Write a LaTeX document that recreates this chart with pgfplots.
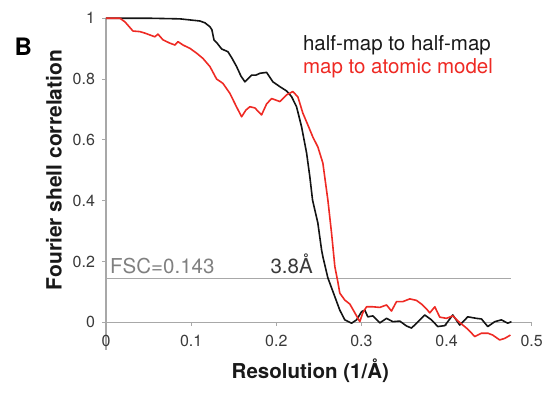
\documentclass[border=0pt]{standalone}
\usepackage{fontspec}
\setmainfont{TeX Gyre Heros}
\usepackage{pgfplots}
\pgfplotsset{compat=1.18}
\definecolor{fscred}{HTML}{EE2A24}
\definecolor{axgray}{HTML}{A8A8A8}
\definecolor{txtgray}{HTML}{3A3A3A}
\begin{document}
\begin{tikzpicture}
\begin{axis}[
  scale only axis, width=425.7pt, height=331.4pt,
  xmin=0, xmax=0.5, ymin=-0.09, ymax=1,
  axis x line*=middle, axis y line*=left,
  axis line style={axgray, line width=1.2pt, -},
  hide obscured x ticks=false, hide obscured y ticks=false,
  xtick={0,0.1,0.2,0.3,0.4,0.5}, ytick={0,0.2,0.4,0.6,0.8,1},
  minor tick num=0,
  tick align=outside, major tick length=3.5pt,
  tick style={axgray, line width=1pt},
  /pgf/number format/assume math mode=true,
  ticklabel style={font=\fontsize{16}{16}\selectfont, text=txtgray},
  xticklabel style={yshift=-6pt},
  yticklabel style={xshift=-4pt},
  clip=false,
  xlabel={Resolution (1/Å)},
  ylabel={Fourier shell correlation},
  xlabel style={at={(axis description cs:0.48,-0.0866)}, anchor=base, inner sep=0pt, font=\fontsize{20.5}{20.5}\selectfont\bfseries, text=black!90},
  ylabel style={at={(axis description cs:-0.104,0.542)}, anchor=base, rotate=0, inner sep=0pt, font=\fontsize{21}{21}\selectfont\bfseries, text=black!90},
]
\coordinate (O) at (axis cs:0,0);
\addplot[axgray, line width=1.2pt] coordinates {(0,0.143) (0.476,0.143)};
\addplot[black!92, line width=1.6pt, line join=round] coordinates {
(0,1.0) (0.0516,1.0) (0.0869,0.998) (0.1103,0.991) (0.1162,0.985) (0.1221,0.972)
(0.1244,0.962) (0.1268,0.929) (0.1303,0.919) (0.1358,0.899) (0.1432,0.890)
(0.1479,0.869) (0.1534,0.841) (0.1585,0.810) (0.1631,0.791) (0.1710,0.813)
(0.1761,0.813) (0.1808,0.819) (0.1886,0.822) (0.1960,0.791) (0.2042,0.775)
(0.2121,0.761) (0.2180,0.742) (0.2238,0.709) (0.2297,0.643) (0.2356,0.557)
(0.2394,0.479) (0.2426,0.402) (0.2488,0.327) (0.2532,0.238) (0.2547,0.216)
(0.2606,0.146) (0.2688,0.084) (0.2746,0.040) (0.2805,0.008) (0.2884,-0.003)
(0.2943,0.008) (0.3002,0.035) (0.3040,0.040) (0.3075,0.018) (0.3134,0.021)
(0.3216,-0.002) (0.3295,0.013) (0.3369,0.002) (0.3451,0.004) (0.3529,-0.012)
(0.3588,-0.019) (0.3647,-0.003) (0.3744,0.024) (0.3823,0.008) (0.3897,-0.014)
(0.3979,-0.011) (0.4073,0.024) (0.4155,-0.009) (0.4249,0.018) (0.4351,0.013)
(0.4410,0.011) (0.4484,-0.014) (0.4566,0.002) (0.4644,0.008) (0.4718,-0.003)
(0.4762,0.002)};
\addplot[fscred, line width=1.6pt, line join=round] coordinates {
(0,1.0) (0.0164,1.0) (0.0223,0.988) (0.0317,0.958) (0.0399,0.956) (0.0458,0.951)
(0.0516,0.945) (0.0575,0.939) (0.0610,0.948) (0.0669,0.929) (0.0751,0.918)
(0.0810,0.912) (0.0845,0.923) (0.0904,0.912) (0.0986,0.901) (0.1065,0.885)
(0.1138,0.868) (0.1221,0.841) (0.1299,0.800) (0.1373,0.786) (0.1455,0.753)
(0.1534,0.708) (0.1593,0.676) (0.1643,0.698) (0.1690,0.709) (0.1749,0.705)
(0.1827,0.682) (0.1886,0.718) (0.1945,0.736) (0.2042,0.726) (0.2121,0.748)
(0.2195,0.759) (0.2254,0.741) (0.2312,0.688) (0.2371,0.649) (0.2430,0.609)
(0.2488,0.577) (0.2547,0.524) (0.2606,0.402) (0.2649,0.294) (0.2688,0.183)
(0.2723,0.133) (0.2746,0.096) (0.2805,0.073) (0.2864,0.060) (0.2923,0.031)
(0.2981,0.002) (0.3016,0.031) (0.3060,0.051) (0.3134,0.051) (0.3216,0.049)
(0.3295,0.057) (0.3353,0.037) (0.3412,0.068) (0.3486,0.068) (0.3568,0.077)
(0.3647,0.072) (0.3705,0.060) (0.3764,0.044) (0.3803,0.031) (0.3862,0.051)
(0.3920,0.017) (0.3999,0.013) (0.4073,0.021) (0.4155,-0.001) (0.4234,-0.019)
(0.4272,-0.029) (0.4331,-0.047) (0.4410,-0.036) (0.4487,-0.036) (0.4542,-0.042)
(0.4624,-0.058) (0.4683,-0.053) (0.4750,-0.042)};
\node[anchor=base west, inner sep=0pt, font=\fontsize{24}{24}\selectfont\bfseries] at (axis cs:-0.1075,0.879) {B};
\node[anchor=base west, inner sep=0pt, font=\fontsize{20.5}{20.5}\selectfont, text=black!90] at (axis cs:0.2312,0.894) {half-map to half-map};
\node[anchor=base west, inner sep=0pt, font=\fontsize{20.5}{20.5}\selectfont, text=fscred] at (axis cs:0.2312,0.817) {map to atomic model};
\node[anchor=base west, inner sep=0pt, font=\fontsize{20.5}{20.5}\selectfont, text=gray] at (axis cs:0.0047,0.161) {FSC=0.143};
\node[anchor=base east, inner sep=0pt, font=\fontsize{20.5}{20.5}\selectfont, text=txtgray] at (axis cs:0.243,0.161) {3.8Å};
\end{axis}
\pgfresetboundingbox
\path[use as bounding box] (O) ++(-106pt,-73.7pt) rectangle ++(548pt,396pt);
\end{tikzpicture}
\end{document}
